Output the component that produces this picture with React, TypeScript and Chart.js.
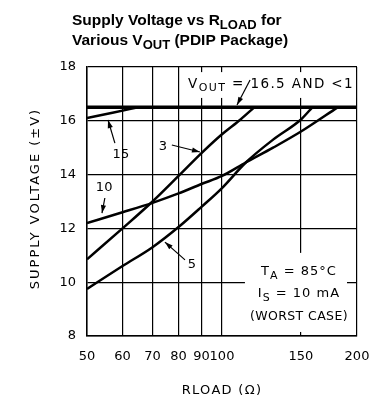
import React, { useEffect, useRef } from "react";
import { Chart, registerables } from "chart.js";

Chart.register(...registerables);

// ---- data ----
const X_TICKS = [50, 60, 70, 80, 90, 100, 150, 200];
const Y_MIN = 8;
const Y_MAX = 18;
const Y_STEP = 2;

const R_15 = [50, 57, 65];
const V_15 = [16.1, 16.3, 16.5];

const R_3 = [50, 60, 70, 80, 90, 100, 110, 118];
const V_3 = [10.85, 12.0, 13.0, 13.95, 14.8, 15.5, 16.05, 16.5];

const R_10 = [50, 60, 70, 80, 90, 100, 113, 130, 150, 181];
const V_10 = [12.2, 12.6, 12.95, 13.3, 13.65, 13.95, 14.45, 15.0, 15.6, 16.5];

const R_5 = [50, 60, 70, 80, 90, 100, 113, 130, 150, 159];
const V_5 = [9.75, 10.6, 11.3, 12.05, 12.8, 13.5, 14.45, 15.3, 16.05, 16.5];

const LIMIT_R = [50, 200];
const LIMIT_V = [16.5, 16.5];

const CURVE_LABELS = ["15", "3", "10", "5"];

// ---- annotation anchors (data units) ----
const LABEL_POS = [
  { x: 59.5, y: 14.73 },
  { x: 73.8, y: 15.03 },
  { x: 54.6, y: 13.5 },
  { x: 85.7, y: 10.64 },
];
const ARROWS = [
  { x1: 57.7, y1: 15.17, x2: 55.7, y2: 16.03 },
  { x1: 77.3, y1: 15.1, x2: 89.3, y2: 14.84 },
  { x1: 54.8, y1: 13.13, x2: 54.0, y2: 12.57 },
  { x1: 82.7, y1: 10.83, x2: 74.6, y2: 11.49 },
  { x1: 115.5, y1: 17.52, x2: 108, y2: 16.59 },
];
const BOXES = [
  { x1: 82.3, x2: 199, y1: 17.81, y2: 16.85 },
  { x1: 112.5, x2: 190, y1: 11.09, y2: 8.15 },
];

const MONO = "'DejaVu Sans', sans-serif";
const BOLD = "'Liberation Sans', Arial, sans-serif";

type Part = { t: string; sub?: boolean };

function drawRich(
  ctx: CanvasRenderingContext2D,
  parts: Part[],
  x: number,
  y: number,
  align: "left" | "center",
  size: number,
  subSize: number,
  family: string,
  weight: string,
  spacing: number,
  subDrop: number
) {
  ctx.save();
  (ctx as any).letterSpacing = spacing + "px";
  ctx.textBaseline = "alphabetic";
  ctx.textAlign = "left";
  const widths = parts.map((p) => {
    ctx.font = `${weight} ${p.sub ? subSize : size}px ${family}`;
    return ctx.measureText(p.t).width;
  });
  const total = widths.reduce((a, b) => a + b, 0);
  let cx = align === "center" ? x - total / 2 : x;
  parts.forEach((p, i) => {
    ctx.font = `${weight} ${p.sub ? subSize : size}px ${family}`;
    ctx.fillText(p.t, cx, p.sub ? y + subDrop : y);
    cx += widths[i];
  });
  ctx.restore();
}

function drawArrow(ctx: CanvasRenderingContext2D, x1: number, y1: number, x2: number, y2: number) {
  ctx.beginPath();
  ctx.moveTo(x1, y1);
  ctx.lineTo(x2, y2);
  ctx.stroke();
  const a = Math.atan2(y2 - y1, x2 - x1);
  const L = 8;
  const W = 2.6;
  ctx.beginPath();
  ctx.moveTo(x2, y2);
  ctx.lineTo(x2 - L * Math.cos(a) + W * Math.sin(a), y2 - L * Math.sin(a) - W * Math.cos(a));
  ctx.lineTo(x2 - L * Math.cos(a) - W * Math.sin(a), y2 - L * Math.sin(a) + W * Math.cos(a));
  ctx.closePath();
  ctx.fill();
}

const decorPlugin = {
  id: "decor",
  beforeDatasetsDraw(chart: any) {
    const { ctx, scales } = chart;
    const xs = scales.x;
    const ys = scales.y;
    ctx.save();
    ctx.fillStyle = "#fff";
    BOXES.forEach((b) => {
      const x1 = xs.getPixelForValue(b.x1);
      const x2 = xs.getPixelForValue(b.x2);
      const y1 = ys.getPixelForValue(b.y1);
      const y2 = ys.getPixelForValue(b.y2);
      ctx.fillRect(x1, y1, x2 - x1, y2 - y1);
    });
    ctx.restore();
  },
  afterDraw(chart: any) {
    const { ctx, scales } = chart;
    const xs = scales.x;
    const ys = scales.y;
    const px = (v: number) => xs.getPixelForValue(v);
    const py = (v: number) => ys.getPixelForValue(v);
    ctx.save();
    ctx.fillStyle = "#000";
    ctx.strokeStyle = "#000";
    ctx.lineWidth = 1.2;

    // curve labels
    ctx.font = `13px ${MONO}`;
    ctx.textAlign = "center";
    ctx.textBaseline = "middle";
    CURVE_LABELS.forEach((l, i) => {
      ctx.fillText(l, px(LABEL_POS[i].x), py(LABEL_POS[i].y));
    });
    ARROWS.forEach((a) => drawArrow(ctx, px(a.x1), py(a.y1), px(a.x2), py(a.y2)));

    // VOUT label
    drawRich(
      ctx,
      [{ t: "V" }, { t: "OUT", sub: true }, { t: " = 16.5 AND <1" }],
      px(84.0),
      py(17.4) + 5,
      "left",
      13.5,
      11,
      MONO,
      "normal",
      1.4,
      3
    );

    // condition box
    const cx = px(150) - 2;
    drawRich(ctx, [{ t: "T" }, { t: "A", sub: true }, { t: " = 85°C" }], cx, py(10.27), "center", 13, 11, MONO, "normal", 1.0, 4);
    drawRich(ctx, [{ t: "I" }, { t: "S", sub: true }, { t: " = 10 mA" }], cx, py(9.45), "center", 13, 11, MONO, "normal", 1.0, 4);
    drawRich(ctx, [{ t: "(WORST CASE)" }], cx, py(8.6), "center", 12.5, 11, MONO, "normal", 0.4, 0);

    // title
    drawRich(
      ctx,
      [{ t: "Supply Voltage vs R" }, { t: "LOAD", sub: true }, { t: " for" }],
      72,
      25,
      "left",
      15.5,
      13,
      BOLD,
      "bold",
      0,
      4
    );
    drawRich(
      ctx,
      [{ t: "Various V" }, { t: "OUT", sub: true }, { t: " (PDIP Package)" }],
      72,
      45,
      "left",
      15.5,
      13,
      BOLD,
      "bold",
      0,
      4
    );

    // axis titles
    drawRich(ctx, [{ t: "RLOAD (Ω)" }], (chart.chartArea.left + chart.chartArea.right) / 2, 394, "center", 13, 11, MONO, "normal", 1.3, 0);
    ctx.save();
    ctx.translate(39, (chart.chartArea.top + chart.chartArea.bottom) / 2 - 3);
    ctx.rotate(-Math.PI / 2);
    drawRich(ctx, [{ t: "SUPPLY VOLTAGE (±V)" }], 0, 0, "center", 13, 11, MONO, "normal", 2, 0);
    ctx.restore();

    ctx.restore();
  },
};

function series(r: number[], v: number[], width: number) {
  return {
    type: "line" as const,
    data: r.map((x, i) => ({ x, y: v[i] })),
    borderColor: "#000",
    borderWidth: width,
    pointRadius: 0,
    fill: false,
    cubicInterpolationMode: "monotone" as const,
  };
}

export default function App() {
  const ref = useRef<HTMLCanvasElement | null>(null);
  useEffect(() => {
    document.body.style.margin = "0";
    const canvas = ref.current;
    if (!canvas) return;
    const chart = new Chart(canvas, {
      type: "line",
      data: {
        datasets: [
          series(R_15, V_15, 2.5),
          series(R_3, V_3, 2.5),
          series(R_10, V_10, 2.5),
          series(R_5, V_5, 2.5),
          series(LIMIT_R, LIMIT_V, 3.5),
        ] as any,
      },
      options: {
        responsive: false,
        animation: false,
        devicePixelRatio: 1,
        layout: { padding: { top: 67, right: 16, left: 0, bottom: 0 } },
        plugins: { legend: { display: false }, tooltip: { enabled: false }, title: { display: false } },
        scales: {
          x: {
            type: "logarithmic",
            min: 50,
            max: 200,
            afterBuildTicks: (scale: any) => {
              scale.ticks = X_TICKS.map((v) => ({ value: v }));
            },
            afterFit: (scale: any) => {
              scale.height = 61;
              scale.paddingRight = 0;
              scale.paddingLeft = 0;
            },
            ticks: {
              autoSkip: false,
              maxRotation: 0,
              padding: 13,
              color: "#000",
              font: { family: MONO, size: 13 },
              callback: (v: any) => String(v),
            },
            grid: { color: "#000", lineWidth: 1.2, drawTicks: false },
            border: { color: "#000", width: 1.5 },
          },
          y: {
            type: "linear",
            min: Y_MIN,
            max: Y_MAX,
            afterFit: (scale: any) => {
              scale.width = 87;
              scale.paddingTop = 0;
              scale.paddingBottom = 0;
            },
            ticks: {
              stepSize: Y_STEP,
              padding: 11,
              color: "#000",
              font: { family: MONO, size: 13 },
            },
            grid: { color: "#000", lineWidth: 1.2, drawTicks: false },
            border: { color: "#000", width: 1.5 },
          },
        },
      },
      plugins: [decorPlugin],
    });
    return () => chart.destroy();
  }, []);
  return <canvas ref={ref} width={373} height={397} style={{ display: "block" }} />;
}
